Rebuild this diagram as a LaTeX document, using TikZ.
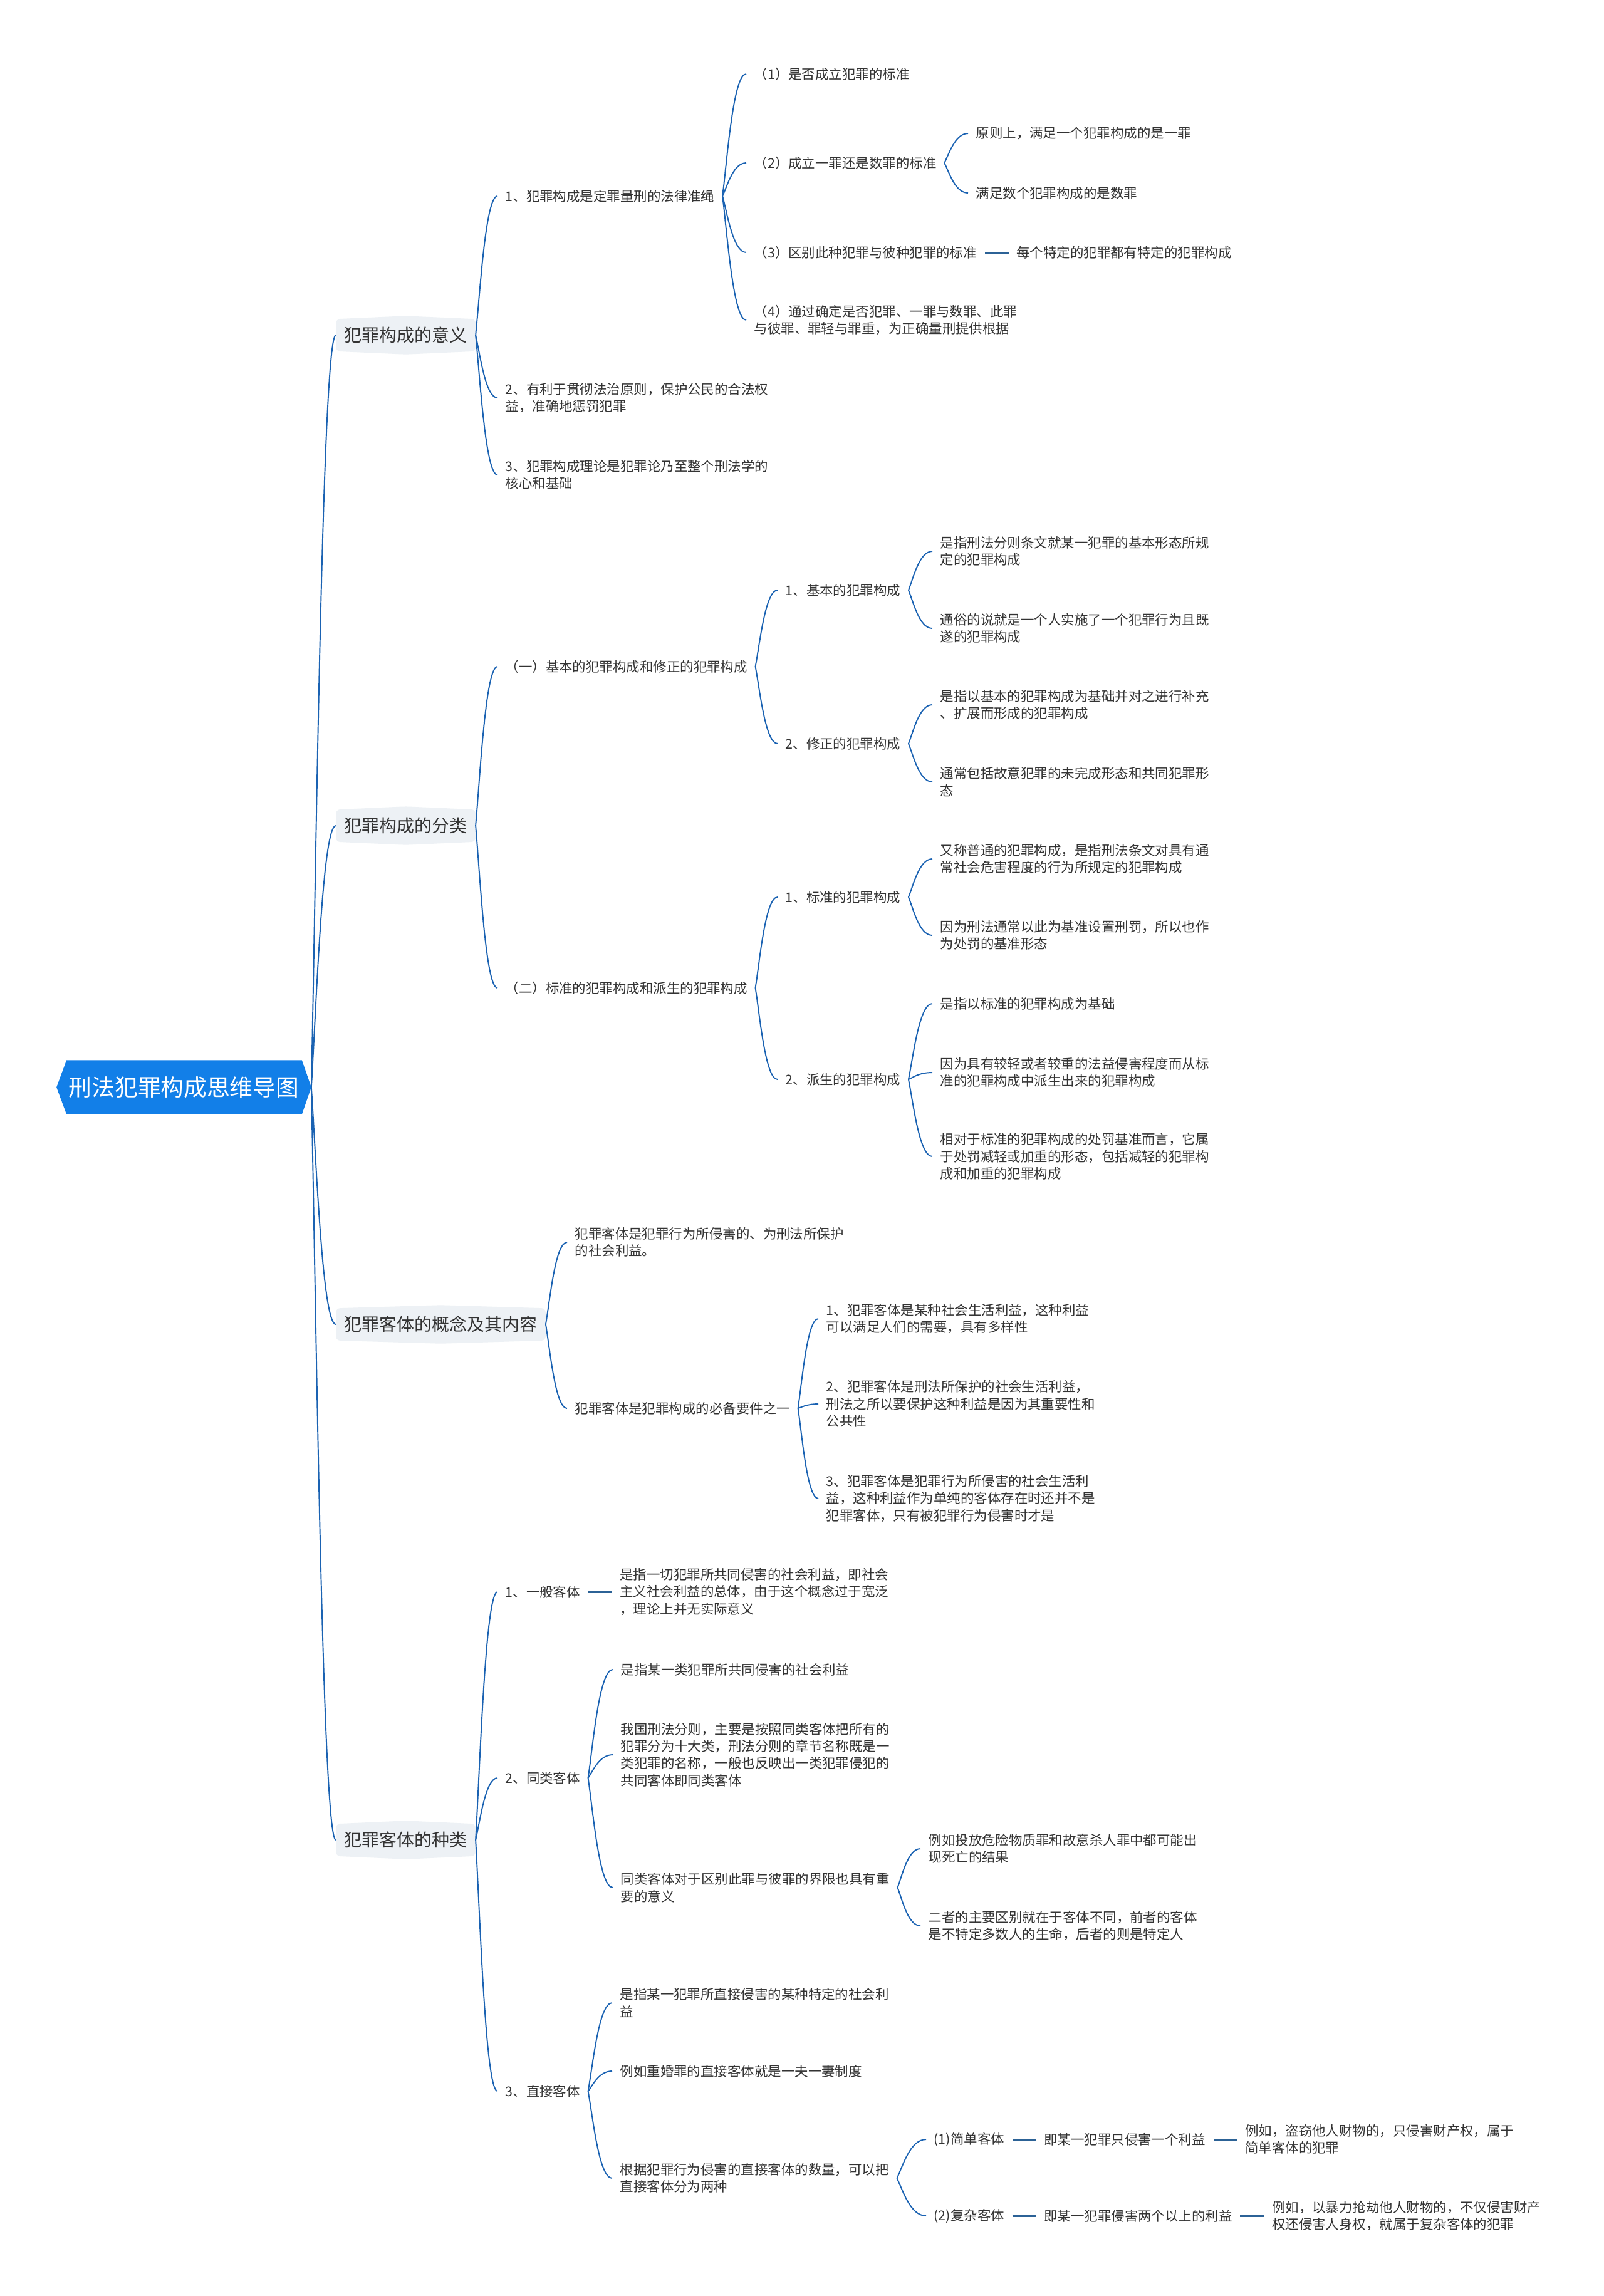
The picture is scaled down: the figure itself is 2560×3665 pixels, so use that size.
\documentclass[tikz,border=0pt]{standalone}
\usepackage{fontspec}
\newfontfamily\cjk{Noto Sans CJK SC}
\usetikzlibrary{calc,backgrounds}
\definecolor{rootblue}{RGB}{18,127,232}
\definecolor{lonefill}{RGB}{237,241,245}
\definecolor{linkblue}{RGB}{26,98,178}
\definecolor{chainblue}{RGB}{44,98,150}
\definecolor{txt}{RGB}{51,51,51}
\tikzset{
  leaf/.style={font={\cjk\fontsize{6.1pt}{7.8pt}\selectfont}, text=txt, align=left, anchor=west, inner xsep=0.12cm, inner ysep=0.02cm},
  lone/.style={font={\cjk\fontsize{7.95pt}{9pt}\selectfont}, text=txt, anchor=west, inner xsep=0.13cm, inner ysep=0pt, minimum height=0.6cm},
  rootnode/.style={font={\cjk\fontsize{10.45pt}{12pt}\selectfont}, text=white, minimum width=4.05cm, minimum height=0.85cm, inner sep=0pt},
  cnx/.style={to path={let \p1=(\tikztostart), \p2=(\tikztotarget) in .. controls ({\x1+0.2*(\x2-\x1)},{\y1+0.3*(\y2-\y1)}) and ({\x1+0.45*(\x2-\x1)},\y2) .. (\tikztotarget)}},
  lnk/.style={draw=linkblue, line width=0.55pt},
  chain/.style={draw=chainblue, line width=0.85pt}
}
\newcommand\lonebg[1]{\fill[lonefill, rounded corners=0.07cm] ([yshift=-0.05cm]#1.north west) -- (#1.north) -- ([yshift=-0.05cm]#1.north east) -- ([yshift=0.05cm]#1.south east) -- (#1.south) -- ([yshift=0.05cm]#1.south west) -- cycle;}
\begin{document}
\begin{tikzpicture}[x=0.01cm,y=-0.01cm]
\useasboundingbox (0,0) rectangle (2560,3665);

% root
\node[rootnode] (R) at (293.5,1735.5) {刑法犯罪构成思维导图};

% level 1
\node[lone] (A) at (536,535) {犯罪构成的意义};
\node[lone] (B) at (536,1318) {犯罪构成的分类};
\node[lone] (C) at (536,2114) {犯罪客体的概念及其内容};
\node[lone] (D) at (536,2937) {犯罪客体的种类};

% branch A
\node[leaf] (A1) at (794,313) {1、犯罪构成是定罪量刑的法律准绳};
\node[leaf] (A2) at (794,635) {2、有利于贯彻法治原则，保护公民的合法权\\益，准确地惩罚犯罪};
\node[leaf] (A3) at (794,758) {3、犯罪构成理论是犯罪论乃至整个刑法学的\\核心和基础};
\node[leaf] (A1a) at (1191,118) {（1）是否成立犯罪的标准};
\node[leaf] (A1b) at (1191,260) {（2）成立一罪还是数罪的标准};
\node[leaf] (A1c) at (1191,403) {（3）区别此种犯罪与彼种犯罪的标准};
\node[leaf] (A1d) at (1191,511) {（4）通过确定是否犯罪、一罪与数罪、此罪\\与彼罪、罪轻与罪重，为正确量刑提供根据};
\node[leaf] (A1b1) at (1545,213) {原则上，满足一个犯罪构成的是一罪};
\node[leaf] (A1b2) at (1545,308) {满足数个犯罪构成的是数罪};
\node[leaf] (A1c1) at ([xshift=0.38cm]A1c.east) {每个特定的犯罪都有特定的犯罪构成};

% branch B
\node[leaf] (B1) at (794,1064) {（一）基本的犯罪构成和修正的犯罪构成};
\node[leaf] (B2) at (794,1577) {（二）标准的犯罪构成和派生的犯罪构成};
\node[leaf] (B1a) at (1241,942) {1、基本的犯罪构成};
\node[leaf] (B1b) at (1241,1187) {2、修正的犯罪构成};
\node[leaf] (B1a1) at (1488,880) {是指刑法分则条文就某一犯罪的基本形态所规\\定的犯罪构成};
\node[leaf] (B1a2) at (1488,1003) {通俗的说就是一个人实施了一个犯罪行为且既\\遂的犯罪构成};
\node[leaf] (B1b1) at (1488,1125) {是指以基本的犯罪构成为基础并对之进行补充\\、扩展而形成的犯罪构成};
\node[leaf] (B1b2) at (1488,1248) {通常包括故意犯罪的未完成形态和共同犯罪形\\态};
\node[leaf] (B2a) at (1241,1432) {1、标准的犯罪构成};
\node[leaf] (B2b) at (1241,1723) {2、派生的犯罪构成};
\node[leaf] (B2a1) at (1488,1371) {又称普通的犯罪构成，是指刑法条文对具有通\\常社会危害程度的行为所规定的犯罪构成};
\node[leaf] (B2a2) at (1488,1493) {因为刑法通常以此为基准设置刑罚，所以也作\\为处罚的基准形态};
\node[leaf] (B2b1) at (1488,1602) {是指以标准的犯罪构成为基础};
\node[leaf] (B2b2) at (1488,1712) {因为具有较轻或者较重的法益侵害程度而从标\\准的犯罪构成中派生出来的犯罪构成};
\node[leaf] (B2b3) at (1488,1846) {相对于标准的犯罪构成的处罚基准而言，它属\\于处罚减轻或加重的形态，包括减轻的犯罪构\\成和加重的犯罪构成};

% branch C
\node[leaf] (C1) at (905,1983) {犯罪客体是犯罪行为所侵害的、为刑法所保护\\的社会利益。};
\node[leaf] (C2) at (905,2248) {犯罪客体是犯罪构成的必备要件之一};
\node[leaf] (C2a) at (1306,2105) {1、犯罪客体是某种社会生活利益，这种利益\\可以满足人们的需要，具有多样性};
\node[leaf] (C2b) at (1306,2241) {2、犯罪客体是刑法所保护的社会生活利益，\\刑法之所以要保护这种利益是因为其重要性和\\公共性};
\node[leaf] (C2c) at (1306,2392) {3、犯罪客体是犯罪行为所侵害的社会生活利\\益，这种利益作为单纯的客体存在时还并不是\\犯罪客体，只有被犯罪行为侵害时才是};

% branch D
\node[leaf] (D1) at (794,2541) {1、一般客体};
\node[leaf] (D1a) at ([xshift=0.38cm]D1.east) {是指一切犯罪所共同侵害的社会利益，即社会\\主义社会利益的总体，由于这个概念过于宽泛\\，理论上并无实际意义};
\node[leaf] (D2) at (794,2838) {2、同类客体};
\node[leaf] (D3) at (794,3338) {3、直接客体};
\node[leaf] (D2a) at (978,2665) {是指某一类犯罪所共同侵害的社会利益};
\node[leaf] (D2b) at (978,2801) {我国刑法分则，主要是按照同类客体把所有的\\犯罪分为十大类，刑法分则的章节名称既是一\\类犯罪的名称，一般也反映出一类犯罪侵犯的\\共同客体即同类客体};
\node[leaf] (D2c) at (978,3013) {同类客体对于区别此罪与彼罪的界限也具有重\\要的意义};
\node[leaf] (D2c1) at (1469,2951) {例如投放危险物质罪和故意杀人罪中都可能出\\现死亡的结果};
\node[leaf] (D2c2) at (1469,3074) {二者的主要区别就在于客体不同，前者的客体\\是不特定多数人的生命，后者的则是特定人};
\node[leaf] (D3a) at (977,3197) {是指某一犯罪所直接侵害的某种特定的社会利\\益};
\node[leaf] (D3b) at (977,3306) {例如重婚罪的直接客体就是一夫一妻制度};
\node[leaf] (D3c) at (977,3477) {根据犯罪行为侵害的直接客体的数量，可以把\\直接客体分为两种};
\node[leaf] (D3c1) at (1478,3415) {(1)简单客体};
\node[leaf] (D3c2) at (1478,3537) {(2)复杂客体};
\node[leaf] (D3c1a) at ([xshift=0.38cm]D3c1.east) {即某一犯罪只侵害一个利益};
\node[leaf] (D3c2a) at ([xshift=0.38cm]D3c2.east) {即某一犯罪侵害两个以上的利益};
\node[leaf] (D3c1b) at ([xshift=0.38cm]D3c1a.east) {例如，盗窃他人财物的，只侵害财产权，属于\\简单客体的犯罪};
\node[leaf] (D3c2b) at ([xshift=0.38cm]D3c2a.east) {例如，以暴力抢劫他人财物的，不仅侵害财产\\权还侵害人身权，就属于复杂客体的犯罪};

\begin{pgfonlayer}{background}
\fill[white] (0,0) rectangle (2560,3665);
\fill[rootblue] (R.west) -- ([xshift=0.16cm]R.north west) -- ([xshift=-0.15cm]R.north east) -- (R.east) -- ([xshift=-0.15cm]R.south east) -- ([xshift=0.16cm]R.south west) -- cycle;
\lonebg{A}
\lonebg{B}
\lonebg{C}
\lonebg{D}
\end{pgfonlayer}

% connectors
\foreach \c in {A,B,C,D} \draw[lnk] (R.east) to[cnx] (\c.west);
\foreach \c in {A1,A2,A3} \draw[lnk] (A.east) to[cnx] (\c.west);
\foreach \c in {A1a,A1b,A1c,A1d} \draw[lnk] (A1.east) to[cnx] (\c.west);
\foreach \c in {A1b1,A1b2} \draw[lnk] (A1b.east) to[cnx] (\c.west);
\draw[chain] (A1c.east) -- (A1c1.west);
\foreach \c in {B1,B2} \draw[lnk] (B.east) to[cnx] (\c.west);
\foreach \c in {B1a,B1b} \draw[lnk] (B1.east) to[cnx] (\c.west);
\foreach \c in {B1a1,B1a2} \draw[lnk] (B1a.east) to[cnx] (\c.west);
\foreach \c in {B1b1,B1b2} \draw[lnk] (B1b.east) to[cnx] (\c.west);
\foreach \c in {B2a,B2b} \draw[lnk] (B2.east) to[cnx] (\c.west);
\foreach \c in {B2a1,B2a2} \draw[lnk] (B2a.east) to[cnx] (\c.west);
\foreach \c in {B2b1,B2b2,B2b3} \draw[lnk] (B2b.east) to[cnx] (\c.west);
\foreach \c in {C1,C2} \draw[lnk] (C.east) to[cnx] (\c.west);
\foreach \c in {C2a,C2b,C2c} \draw[lnk] (C2.east) to[cnx] (\c.west);
\foreach \c in {D1,D2,D3} \draw[lnk] (D.east) to[cnx] (\c.west);
\draw[chain] (D1.east) -- (D1a.west);
\foreach \c in {D2a,D2b,D2c} \draw[lnk] (D2.east) to[cnx] (\c.west);
\foreach \c in {D2c1,D2c2} \draw[lnk] (D2c.east) to[cnx] (\c.west);
\foreach \c in {D3a,D3b,D3c} \draw[lnk] (D3.east) to[cnx] (\c.west);
\foreach \c in {D3c1,D3c2} \draw[lnk] (D3c.east) to[cnx] (\c.west);
\draw[chain] (D3c1.east) -- (D3c1a.west);
\draw[chain] (D3c1a.east) -- (D3c1b.west);
\draw[chain] (D3c2.east) -- (D3c2a.west);
\draw[chain] (D3c2a.east) -- (D3c2b.west);
\end{tikzpicture}
\end{document}
